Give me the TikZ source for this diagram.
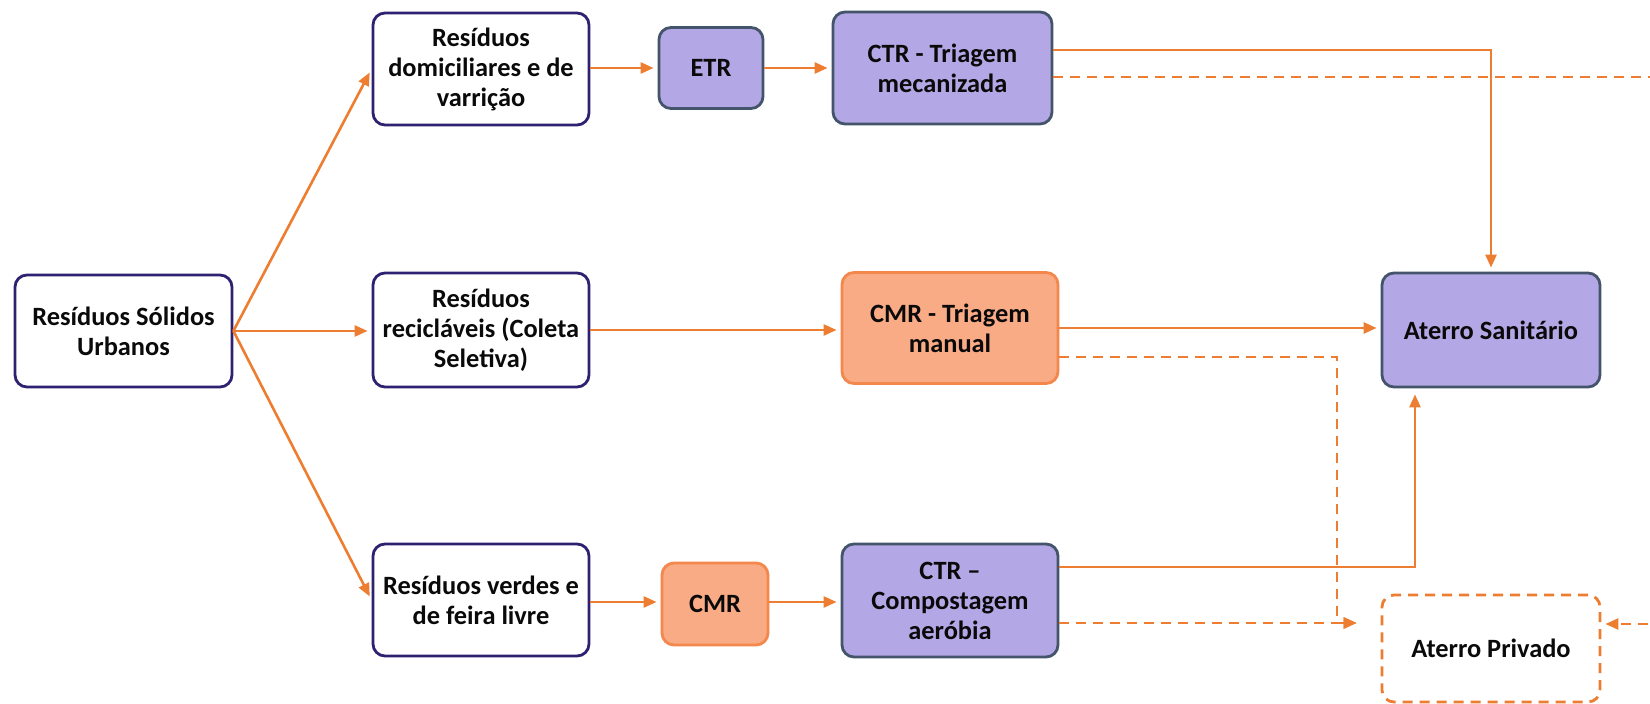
\documentclass[tikz,border=0pt]{standalone}
\usepackage{fontspec}
\setmainfont{Carlito}
\usetikzlibrary{arrows.meta}
\definecolor{ln}{HTML}{ED7D31}
\definecolor{lav}{HTML}{B4A7E5}
\definecolor{pbd}{HTML}{44546A}
\definecolor{wbd}{HTML}{2E2270}
\definecolor{sal}{HTML}{F9AB86}
\definecolor{obd}{HTML}{F4874B}
\definecolor{txt}{HTML}{0A0A0A}
\begin{document}
\begin{tikzpicture}[x=0.5pt,y=-0.5pt,
  box/.style={rounded corners=6pt, line width=1.4pt, align=center, text=txt,
    font=\bfseries\fontsize{13.2}{15}\selectfont, inner sep=0pt},
  wbox/.style={box, draw=wbd, fill=white},
  pbox/.style={box, draw=pbd, fill=lav},
  obox/.style={box, draw=obd, fill=sal},
  dbox/.style={box, draw=ln, dash pattern=on 5pt off 3.5pt},
  flow/.style={draw=ln, line width=1.3pt, -{Triangle[length=6.5pt,width=5.5pt]}},
  dflow/.style={flow, dash pattern=on 5pt off 3.5pt},
  dline/.style={draw=ln, line width=1.3pt, dash pattern=on 5pt off 3.5pt},
  ]
\useasboundingbox (0,0) rectangle (1650,704);
\fill[white] (0,0) rectangle (1650,704);

\node[wbox, minimum width=108.5pt, minimum height=56pt] (rsu) at (123.5,331) {Resíduos Sólidos\\Urbanos};
\node[wbox, minimum width=108pt, minimum height=56pt] (dom) at (481,69) {Resíduos\\domiciliares e de\\varrição};
\node[wbox, minimum width=108pt, minimum height=57pt] (rec) at (481,330) {Resíduos\\recicláveis (Coleta\\Seletiva)};
\node[wbox, minimum width=108pt, minimum height=56pt] (ver) at (481,600) {Resíduos verdes e\\de feira livre};

\node[pbox, minimum width=52pt, minimum height=40.5pt] (etr) at (711,68) {ETR};
\node[pbox, minimum width=109.5pt, minimum height=56pt] (ctr1) at (942.5,68) {CTR - Triagem\\mecanizada};
\node[obox, minimum width=108pt, minimum height=55.5pt] (cmr1) at (950,328) {CMR - Triagem\\manual};
\node[obox, minimum width=53pt, minimum height=41pt] (cmr2) at (715,604) {CMR};
\node[pbox, minimum width=108pt, minimum height=56.5pt] (ctr2) at (950,600.5) {CTR –\\Compostagem\\aeróbia};
\node[pbox, minimum width=109pt, minimum height=57pt] (as) at (1491,330) {Aterro Sanitário};
\node[dbox, minimum width=109pt, minimum height=53.5pt] (ap) at (1491,648.5) {Aterro Privado};

\coordinate (re1) at (1665,77);
\coordinate (re2) at (1665,624);

% fan
\draw[flow, shorten >=2pt] (rsu.east) -- (dom.west);
\draw[flow, shorten >=2pt] (rsu.east) -- (rec.west |- rsu.east);
\draw[flow, shorten >=2pt] (rsu.east) -- (ver.west);

% top row
\draw[flow, shorten >=2pt] (dom.east |- etr.west) -- (etr.west);
\draw[flow, shorten >=2pt] (etr.east) -- (ctr1.west);
\draw[flow, shorten >=2pt] (ctr1.east |- 0,50) -| (as.north);
\draw[dline] (ctr1.east |- 0,77) -- (re1);

% middle row
\draw[flow, shorten >=2pt] (rec.east) -- (cmr1.west |- rec.east);
\draw[flow, shorten >=2pt] (cmr1.east) -- (as.west |- cmr1.east);
\draw[dflow, shorten >=12pt] (cmr1.east |- 0,357) -| (1337,623) -- (ap.west |- 0,623);

% bottom row
\draw[flow, shorten >=2pt] (ver.east |- 0,602) -- (cmr2.west |- 0,602);
\draw[flow, shorten >=2pt] (cmr2.east |- 0,602) -- (ctr2.west |- 0,602);
\draw[flow, shorten >=3pt] (ctr2.east |- 0,567) -| (as.south -| 1415,0);
\draw[dflow, shorten >=12pt] (ctr2.east |- 0,623) -- (ap.west |- 0,623);

% right incoming
\draw[dflow, shorten >=2pt] (re2) -- (ap.east |- re2);
\end{tikzpicture}
\end{document}
